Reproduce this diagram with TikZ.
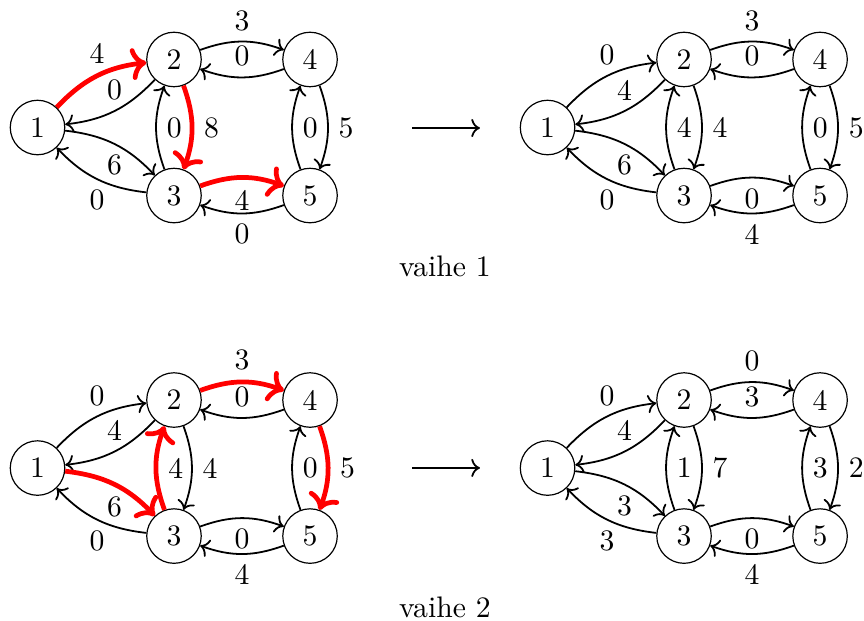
\documentclass[tikz,border=0pt]{standalone}
\usetikzlibrary{arrows.meta}
\tikzset{
  vertex/.style={circle,draw,minimum size=0.645cm,inner sep=0pt},
  arr/.style={->,semithick,bend left=20},
  hot/.style={->,draw=red,ultra thick,bend left=20},
  step arrow/.style={->,semithick},
}

\begin{document}
\begin{tikzpicture}
  \useasboundingbox (0,0) rectangle (10.225,7.349);

  % vaihe 1, ennen
  \begin{scope}[shift={(0.444,5.840)}]
    \node[vertex] (a1) at (0,0) {1};
    \node[vertex] (a2) at (1.615,0.805) {2};
    \node[vertex] (a3) at (1.615,-0.805) {3};
    \node[vertex] (a4) at (3.225,0.805) {4};
    \node[vertex] (a5) at (3.225,-0.805) {5};
    \draw[hot] (a1) to node[above] {4} (a2);
    \draw[arr] (a2) to node[above] {0} (a1);
    \draw[arr] (a1) to node[below] {6} (a3);
    \draw[arr] (a3) to node[below] {0} (a1);
    \draw[arr] (a2) to node[above] {3} (a4);
    \draw[arr] (a4) to node[above] {0} (a2);
    \draw[hot] (a3) to node[below] {4} (a5);
    \draw[arr] (a5) to node[below] {0} (a3);
    \draw[hot] (a2) to node[right] {8} (a3);
    \draw[arr] (a3) to node[right] {0} (a2);
    \draw[arr] (a4) to node[right] {5} (a5);
    \draw[arr] (a5) to node[right] {0} (a4);
  \end{scope}

  % vaihe 1, jalkeen
  \begin{scope}[shift={(6.480,5.840)}]
    \node[vertex] (b1) at (0,0) {1};
    \node[vertex] (b2) at (1.615,0.805) {2};
    \node[vertex] (b3) at (1.615,-0.805) {3};
    \node[vertex] (b4) at (3.225,0.805) {4};
    \node[vertex] (b5) at (3.225,-0.805) {5};
    \draw[arr] (b1) to node[above] {0} (b2);
    \draw[arr] (b2) to node[above] {4} (b1);
    \draw[arr] (b1) to node[below] {6} (b3);
    \draw[arr] (b3) to node[below] {0} (b1);
    \draw[arr] (b2) to node[above] {3} (b4);
    \draw[arr] (b4) to node[above] {0} (b2);
    \draw[arr] (b3) to node[below] {0} (b5);
    \draw[arr] (b5) to node[below] {4} (b3);
    \draw[arr] (b2) to node[right] {4} (b3);
    \draw[arr] (b3) to node[right] {4} (b2);
    \draw[arr] (b4) to node[right] {5} (b5);
    \draw[arr] (b5) to node[right] {0} (b4);
  \end{scope}

  % vaihe 2, ennen
  \begin{scope}[shift={(0.444,1.810)}]
    \node[vertex] (c1) at (0,0) {1};
    \node[vertex] (c2) at (1.615,0.805) {2};
    \node[vertex] (c3) at (1.615,-0.805) {3};
    \node[vertex] (c4) at (3.225,0.805) {4};
    \node[vertex] (c5) at (3.225,-0.805) {5};
    \draw[arr] (c1) to node[above] {0} (c2);
    \draw[arr] (c2) to node[above] {4} (c1);
    \draw[hot] (c1) to node[below] {6} (c3);
    \draw[arr] (c3) to node[below] {0} (c1);
    \draw[hot] (c2) to node[above] {3} (c4);
    \draw[arr] (c4) to node[above] {0} (c2);
    \draw[arr] (c3) to node[below] {0} (c5);
    \draw[arr] (c5) to node[below] {4} (c3);
    \draw[arr] (c2) to node[right] {4} (c3);
    \draw[hot] (c3) to node[right] {4} (c2);
    \draw[hot] (c4) to node[right] {5} (c5);
    \draw[arr] (c5) to node[right] {0} (c4);
  \end{scope}

  % vaihe 2, jalkeen
  \begin{scope}[shift={(6.480,1.810)}]
    \node[vertex] (d1) at (0,0) {1};
    \node[vertex] (d2) at (1.615,0.805) {2};
    \node[vertex] (d3) at (1.615,-0.805) {3};
    \node[vertex] (d4) at (3.225,0.805) {4};
    \node[vertex] (d5) at (3.225,-0.805) {5};
    \draw[arr] (d1) to node[above] {0} (d2);
    \draw[arr] (d2) to node[above] {4} (d1);
    \draw[arr] (d1) to node[below] {3} (d3);
    \draw[arr] (d3) to node[below] {3} (d1);
    \draw[arr] (d2) to node[above] {0} (d4);
    \draw[arr] (d4) to node[above] {3} (d2);
    \draw[arr] (d3) to node[below] {0} (d5);
    \draw[arr] (d5) to node[below] {4} (d3);
    \draw[arr] (d2) to node[right] {7} (d3);
    \draw[arr] (d3) to node[right] {1} (d2);
    \draw[arr] (d4) to node[right] {2} (d5);
    \draw[arr] (d5) to node[right] {3} (d4);
  \end{scope}

  % valinuolet ja otsikot
  \coordinate (s1) at (4.876,5.834);
  \coordinate (e1) at (5.680,5.834);
  \coordinate (s2) at (4.876,1.811);
  \coordinate (e2) at (5.680,1.811);
  \draw[step arrow] (s1) -- (e1);
  \draw[step arrow] (s2) -- (e2);
  \node (v1) at (5.266,4.196) {vaihe 1};
  \node (v2) at (5.266,0.166) {vaihe 2};
\end{tikzpicture}
\end{document}
